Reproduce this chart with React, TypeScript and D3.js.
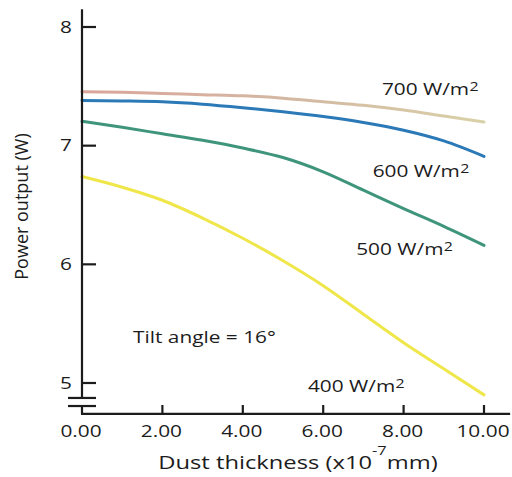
import React, { useEffect, useRef } from 'react';
import * as d3 from 'd3';

// Dust thickness (x10^-7 mm)
const thickness = [0, 1, 2, 3, 4, 5, 6, 7, 8, 9, 10];

// Power output (W) per irradiance level
const p700 = [7.455, 7.45, 7.44, 7.43, 7.42, 7.4, 7.37, 7.34, 7.3, 7.25, 7.2];
const p600 = [7.38, 7.377, 7.37, 7.35, 7.32, 7.285, 7.245, 7.195, 7.13, 7.04, 6.91];
const p500 = [7.205, 7.155, 7.1, 7.045, 6.98, 6.9, 6.78, 6.625, 6.47, 6.32, 6.16];
const p400 = [6.74, 6.65, 6.54, 6.39, 6.22, 6.03, 5.82, 5.58, 5.34, 5.12, 4.9];

const seriesNames = ['700', '600', '500', '400'];
const seriesValues = [p700, p600, p500, p400];
const seriesColors = ['url(#grad700)', '#2b79b6', '#3e957b', '#efe64a'];

// label anchors in data units (x thickness, y watts)
const labelX = [7.46, 7.23, 6.82, 5.62];
const labelY = [7.427, 6.738, 6.079, 4.927];

const xTicks = [0, 2, 4, 6, 8, 10];
const yTicks = [5, 6, 7, 8];

const W = 512;
const H = 477;
const SX = 1.27; // the scan's lettering is wide
const FONT = '"Open Sans", sans-serif';
const INK = '#1c1c1c';

const App: React.FC = () => {
  const svgRef = useRef<SVGSVGElement>(null);

  useEffect(() => {
    if (!svgRef.current) return;
    const svg = d3.select(svgRef.current);
    svg.selectAll('*').remove();

    const x = d3.scaleLinear().domain([0, 10]).range([82, 484]);
    const y = d3.scaleLinear().domain([5, 8]).range([383, 27]);

    const defs = svg.append('defs');
    const grad = defs.append('linearGradient')
      .attr('id', 'grad700')
      .attr('gradientUnits', 'userSpaceOnUse')
      .attr('x1', x(0)).attr('x2', x(10))
      .attr('y1', 0).attr('y2', 0);
    grad.append('stop').attr('offset', '0%').attr('stop-color', '#dba59b');
    grad.append('stop').attr('offset', '55%').attr('stop-color', '#d3b9a2');
    grad.append('stop').attr('offset', '100%').attr('stop-color', '#d9d1a8');

    svg.append('rect').attr('width', W).attr('height', H).attr('fill', '#fff');

    const g = svg.append('g');

    // Lines
    const line = d3.line<number>()
      .x((_, i) => x(thickness[i]))
      .y(d => y(d))
      .curve(d3.curveMonotoneX);

    seriesValues.forEach((vals, i) => {
      g.append('path')
        .datum(vals)
        .attr('fill', 'none')
        .attr('stroke', seriesColors[i])
        .attr('stroke-width', 3)
        .attr('stroke-linecap', 'round')
        .attr('d', line);
    });

    // Y axis with break
    const yTop = y(8.15);
    const brk1 = y(4.874);
    const brk2 = y(4.806);
    const xAxisY = y(4.739);

    g.append('line')
      .attr('x1', x(0)).attr('x2', x(0))
      .attr('y1', yTop).attr('y2', brk1)
      .attr('stroke', INK).attr('stroke-width', 2.2);
    g.append('line')
      .attr('x1', x(0)).attr('x2', x(0))
      .attr('y1', brk2).attr('y2', xAxisY)
      .attr('stroke', INK).attr('stroke-width', 2.2);
    [brk1, brk2].forEach(by => {
      g.append('line')
        .attr('x1', x(0) - 14).attr('x2', x(0) + 14)
        .attr('y1', by).attr('y2', by)
        .attr('stroke', INK).attr('stroke-width', 2.2);
    });

    yTicks.forEach(t => {
      g.append('line')
        .attr('x1', x(0)).attr('x2', x(0) + 14)
        .attr('y1', y(t)).attr('y2', y(t))
        .attr('stroke', INK).attr('stroke-width', 2.2);
      g.append('text')
        .attr('transform', `translate(${x(0) - 10},${y(t) + 5.6}) scale(${SX},1)`)
        .attr('text-anchor', 'end')
        .style('font-family', FONT)
        .style('font-size', '16.4px')
        .style('fill', INK)
        .text(t);
    });

    // X axis
    g.append('line')
      .attr('x1', x(0) - 1).attr('x2', x(10.65))
      .attr('y1', xAxisY).attr('y2', xAxisY)
      .attr('stroke', INK).attr('stroke-width', 2.2);

    xTicks.forEach(t => {
      if (t > 0) {
        g.append('line')
          .attr('x1', x(t)).attr('x2', x(t))
          .attr('y1', xAxisY).attr('y2', xAxisY - 9)
          .attr('stroke', INK).attr('stroke-width', 2.2);
      }
      g.append('text')
        .attr('transform', `translate(${x(t) - 1},${xAxisY + 23}) scale(${SX},1)`)
        .attr('text-anchor', 'middle')
        .style('font-family', FONT)
        .style('font-size', '16.4px')
        .style('fill', INK)
        .text(t.toFixed(2));
    });

    // Axis titles
    const xt = g.append('text')
      .attr('transform', `translate(298,469.3) scale(${SX},1)`)
      .attr('text-anchor', 'middle')
      .style('font-family', FONT)
      .style('font-size', '18.7px')
      .style('fill', INK);
    xt.append('tspan').text('Dust thickness (x10');
    xt.append('tspan').attr('dy', -14).style('font-size', '13px').text('-7');
    xt.append('tspan').attr('dy', 14).text('mm)');

    g.append('text')
      .attr('transform', 'translate(28,206.5) rotate(-90)')
      .attr('text-anchor', 'middle')
      .style('font-family', FONT)
      .style('font-size', '18px')
      .style('fill', INK)
      .text('Power output (W)');

    // Series labels
    seriesNames.forEach((name, i) => {
      const t = g.append('text')
        .attr('transform', `translate(${x(labelX[i])},${y(labelY[i])}) scale(${SX},1)`)
        .style('font-family', FONT)
        .style('font-size', '16.4px')
        .style('fill', INK);
      t.append('tspan').text(`${name} W/m`);
      t.append('tspan').attr('dy', -3.5).attr('dx', 0.3).style('font-size', '12.5px').text('2');
    });

    // Annotation
    g.append('text')
      .attr('transform', `translate(${x(1.27)},${y(5.335)}) scale(${SX},1)`)
      .style('font-family', FONT)
      .style('font-size', '16.4px')
      .style('fill', INK)
      .text('Tilt angle = 16°');
  }, []);

  return (
    <div style={{ position: 'absolute', left: 0, top: 0 }}>
      <svg ref={svgRef} width={W} height={H} viewBox={`0 0 ${W} ${H}`} style={{ display: 'block' }} />
    </div>
  );
};

export default App;
